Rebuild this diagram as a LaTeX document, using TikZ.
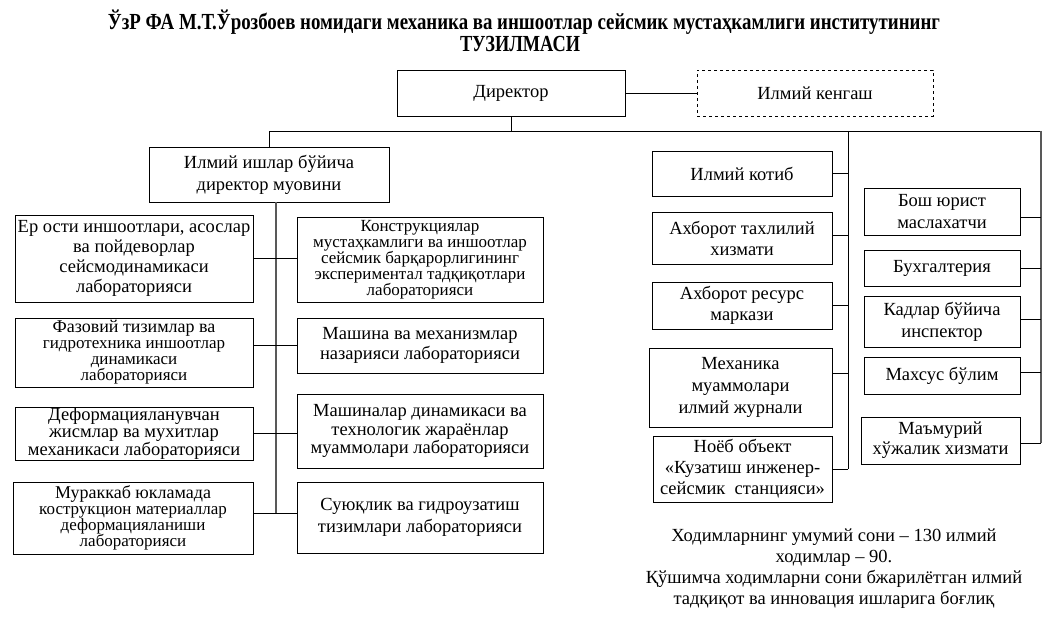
\documentclass[tikz,border=0pt]{standalone}
\usepackage{fontspec}
\usepackage{graphicx}
\setmainfont{Liberation Serif}
\usetikzlibrary{calc}
\begin{document}
\begin{tikzpicture}[x=1pt,y=-1pt,
  box/.style={draw,line width=0.8pt,align=center,inner sep=0pt,font=\fontsize{18.5}{21}\selectfont},
  ls/.style={font=\fontsize{18.5}{#1}\selectfont},
  tight/.style={font=\fontsize{17}{#1}\selectfont},
  ln/.style={line width=0.8pt},
  thk/.style={line width=1.4pt,black!65}]
\useasboundingbox (0,0) rectangle (1055,617);
% title
\node[font=\fontsize{23}{26}\selectfont\bfseries,inner sep=0pt] (t1) at (524,22)
  {\resizebox{832pt}{\height}{ЎзР ФА М.Т.Ўрозбоев номидаги механика ва иншоотлар сейсмик мустаҳкамлиги институтининг}};
\node[font=\fontsize{23}{26}\selectfont\bfseries,inner sep=0pt] (t2) at (520,44)
  {\resizebox{120pt}{\height}{ТУЗИЛМАСИ}};
% top
\node[box,minimum width=228pt,minimum height=46pt] (dir) at (511,93) {Директор};
\node[box,dashed,minimum width=236pt,minimum height=46pt] (ken) at (815,93) {Илмий кенгаш};
\node[box,ls=22,minimum width=240pt,minimum height=55pt] (dep) at (269,174.5) {Илмий ишлар бўйича\\директор муовини};
% left column
\node[box,ls=20,minimum width=238pt,minimum height=87pt] (L1) at (134,258.5) {Ер ости иншоотлари, асослар\\ва пойдеворлар\\сейсмодинамикаси\\лабораторияси};
\node[box,tight=16,minimum width=238pt,minimum height=69pt] (L2) at (134,352.5) {\fontsize{18}{16}\selectfont Фазовий тизимлар ва\\гидротехника иншоотлар\\динамикаси\\лабораторияси};
\node[box,ls=16.5,minimum width=238pt,minimum height=53pt] (L3) at (134,433.5) {Деформацияланувчан\\жисмлар ва мухитлар\\механикаси лабораторияси};
\node[box,tight=16,minimum width=240pt,minimum height=72pt] (L4) at (133,518) {\fontsize{18}{16}\selectfont Мураккаб юкламада\\кострукцион материаллар\\деформацияланиши\\лабораторияси};
% right column
\node[box,tight=16,minimum width=246pt,minimum height=85pt] (R1) at (420,259.5) {Конструкциялар\\мустаҳкамлиги ва иншоотлар\\сейсмик барқарорлигининг\\экспериментал тадқиқотлари\\лабораторияси};
\node[box,ls=20,minimum width=246pt,minimum height=55pt] (R2) at (420,345.5) {Машина ва механизмлар\\назарияси лабораторияси};
\node[box,ls=18.5,minimum width=246pt,minimum height=74pt] (R3) at (420,431) {Машиналар динамикаси ва\\технологик жараёнлар\\муаммолари лабораторияси};
\node[box,ls=22,minimum width=246pt,minimum height=71pt] (R4) at (420,517.5) {Суюқлик ва гидроузатиш\\тизимлари лабораторияси};
% services column A
\node[box,minimum width=180pt,minimum height=45pt] (A1) at (742,173.5) {Илмий котиб};
\node[box,ls=21,minimum width=180pt,minimum height=52pt] (A2) at (742,238) {Ахборот тахлилий\\хизмати};
\node[box,ls=21,minimum width=180pt,minimum height=47pt] (A3) at (742,305.5) {Ахборот ресурс\\маркази};
\node[box,ls=22,minimum width=183pt,minimum height=79pt] (A4) at (740.5,387.5) {Механика\\муаммолари\\илмий журнали};
\node[box,ls=21,minimum width=179pt,minimum height=66pt] (A5) at (742.5,469) {Ноёб объект\\«Кузатиш инженер-\\сейсмик\ \ станцияси»};
% column B
\node[box,ls=22,minimum width=156pt,minimum height=47pt] (B1) at (942,211.5) {Бош юрист\\маслахатчи};
\node[box,minimum width=156pt,minimum height=36pt] (B2) at (942,268) {\raisebox{4pt}{Бухгалтерия}};
\node[box,ls=22,minimum width=156pt,minimum height=51pt] (B3) at (942,321.5) {Кадлар бўйича\\инспектор};
\node[box,minimum width=156pt,minimum height=37pt] (B4) at (942,375.5) {Махсус бўлим};
\node[box,ls=20,minimum width=159pt,minimum height=47pt] (B5) at (940.5,440.5) {Маъмурий\\хўжалик хизмати};
% note
\node[font=\fontsize{18.5}{21}\selectfont,align=center,inner sep=0pt] (note) at (834,569)
  {Ходимларнинг умумий сони – 130 илмий\\ходимлар – 90.\\Қўшимча ходимларни сони бжарилётган илмий\\тадқиқот ва инновация ишларига боғлиқ};
% connector anchor points
\coordinate (busL) at (269,131);
\coordinate (busM) at (848,131);
\coordinate (busR) at (1041,131);
\coordinate (spB) at (276,513);
\coordinate (l4c) at ($(L4.east)+(0,-5)$);
\coordinate (a2c) at ($(A2.east)+(0,-3)$);
\coordinate (a4c) at ($(A4.east)+(0,-14)$);
\coordinate (b1c) at ($(B1.east)+(0,5.5)$);
\coordinate (b3c) at ($(B3.east)+(0,-2.5)$);
\coordinate (b4c) at ($(B4.east)+(0,-3.5)$);
\coordinate (b5c) at ($(B5.east)+(0,2.5)$);
% connectors
\draw[ln] (dir.east) -- (ken.west);
\draw[ln] (dir.south) -- (dir.south |- busL);
\draw[ln] (dep.north) -- (busL) -- (busR);
\draw[thk] (dep.south -| spB) -- (spB);
\draw[ln] (L1.east) -- (L1.east -| R1.west);
\draw[ln] (R2.west -| L2.east) -- (R2.west);
\draw[ln] (L3.east) -- (L3.east -| R3.west);
\draw[ln] (l4c) -- (l4c -| R4.west);
\draw[ln] (busM) -- (busM |- A5.east);
\draw[ln] (A1.east) -- (A1.east -| busM);
\draw[ln] (a2c) -- (a2c -| busM);
\draw[ln] (A3.east) -- (A3.east -| busM);
\draw[ln] (a4c) -- (a4c -| busM);
\draw[ln] (A5.east) -- (A5.east -| busM);
\draw[thk] (busR) -- (busR |- b5c);
\draw[ln] (b1c) -- (b1c -| busR);
\draw[ln] (B2.east) -- (B2.east -| busR);
\draw[ln] (b3c) -- (b3c -| busR);
\draw[ln] (b4c) -- (b4c -| busR);
\draw[ln] (b5c) -- (b5c -| busR);
\end{tikzpicture}
\end{document}
